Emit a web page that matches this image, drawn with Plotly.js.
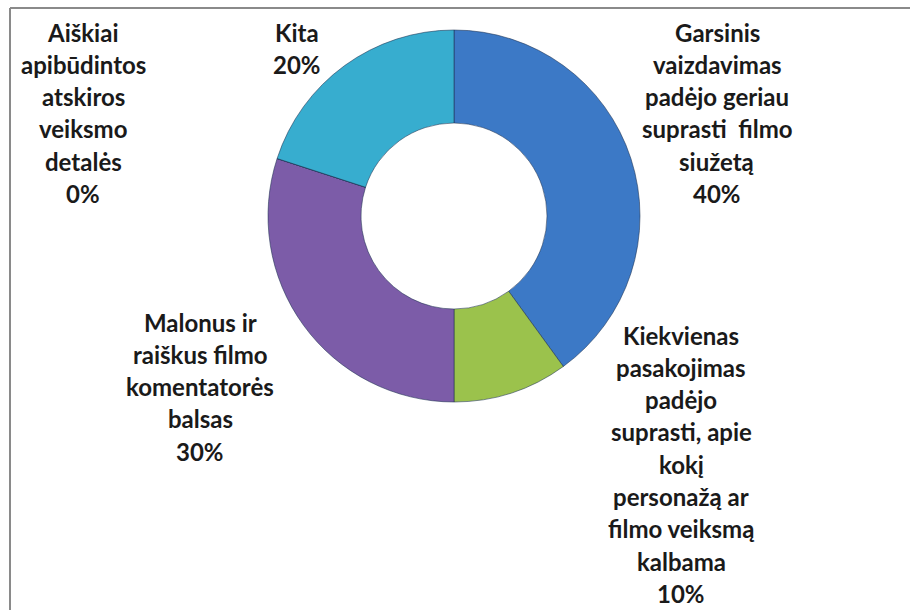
<!DOCTYPE html>
<html>
<head>
<meta charset="utf-8">
<script src="https://cdn.plot.ly/plotly-3.0.1.min.js"></script>
<style>html,body{margin:0;padding:0;background:#fff;}#chart{width:910px;height:610px;}</style>
</head>
<body>
<div id="chart"></div>
<script>
// ---- data ----
var categories = [
  "Garsinis vaizdavimas padėjo geriau suprasti filmo siužetą",
  "Kiekvienas pasakojimas padėjo suprasti, apie kokį personažą ar filmo veiksmą kalbama",
  "Malonus ir raiškus filmo komentatorės balsas",
  "Aiškiai apibūdintos atskiros veiksmo detalės",
  "Kita"
];
var values = [40, 10, 30, 0, 20];
var labelLines = [
  ["Garsinis", "vaizdavimas", "padėjo geriau", "suprasti  filmo", "siužetą"],
  ["Kiekvienas", "pasakojimas", "padėjo", "suprasti, apie", "kokį", "personažą ar", "filmo veiksmą", "kalbama"],
  ["Malonus ir", "raiškus filmo", "komentatorės", "balsas"],
  ["Aiškiai", "apibūdintos", "atskiros", "veiksmo", "detalės"],
  ["Kita"]
];
var colors = ["#3c79c6", "#9bc24c", "#7c5ca8", "#c0504d", "#37adcf"];

// ---- layout helpers (positions in pixels of label block: center x, first line y) ----
var W = 910, H = 610;
var labelAnchors = [[717, 32], [681, 335], [200, 322], [83, 32], [297, 32]];
var lineStep = 32.3;

var total = values.reduce(function(a, b){ return a + b; }, 0);
var annotations = [];
categories.forEach(function(c, i){
  var lines = labelLines[i].concat([Math.round(values[i] / total * 100) + "%"]);
  lines.forEach(function(t, j){
    annotations.push({
      text: t, xref: "paper", yref: "paper",
      x: labelAnchors[i][0] / W, y: 1 - (labelAnchors[i][1] + j * lineStep) / H,
      xanchor: "center", yanchor: "middle", showarrow: false,
      font: {family: "Lato, 'Open Sans', sans-serif", size: 24, color: "#1a1a1a", weight: 700}
    });
  });
});

var cx = 454, cy = 216, R = 186;
var trace = {
  type: "pie",
  values: values,
  labels: categories,
  hole: 0.5,
  sort: false,
  direction: "clockwise",
  rotation: 0,
  textinfo: "none",
  hoverinfo: "label+percent",
  marker: {colors: colors, line: {color: "rgba(30,50,80,0.55)", width: 1}},
  domain: {x: [(cx - R) / W, (cx + R) / W], y: [1 - (cy + R) / H, 1 - (cy - R) / H]},
  showlegend: false
};

var layout = {
  width: W, height: H,
  margin: {l: 0, r: 0, t: 0, b: 0},
  paper_bgcolor: "#ffffff",
  showlegend: false,
  annotations: annotations,
  shapes: [
    {type: "line", xref: "paper", yref: "paper", x0: 10 / W, x1: 1, y0: 1 - 8 / H, y1: 1 - 8 / H, line: {color: "#8a8a8a", width: 2}},
    {type: "line", xref: "paper", yref: "paper", x0: 10 / W, x1: 10 / W, y0: 0, y1: 1 - 8 / H, line: {color: "#8a8a8a", width: 2}}
  ]
};

Plotly.newPlot("chart", [trace], layout, {displayModeBar: false, staticPlot: true});
</script>
</body>
</html>
